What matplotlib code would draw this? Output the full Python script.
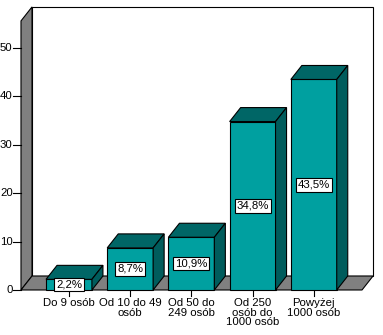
import matplotlib
matplotlib.use("Agg")
import matplotlib.pyplot as plt
from matplotlib.patches import Polygon

plt.rcParams["font.family"] = ["Liberation Sans", "DejaVu Sans"]

categories = ["Do 9 osób", "Od 10 do 49\nosób", "Od 50 do\n249 osób",
              "Od 250\nosób do\n1000 osób", "Powyżej\n1000 osób"]
values = [2.2, 8.7, 10.9, 34.8, 43.5]
yticks = [0, 10, 20, 30, 40, 50]

FRONT = "#00a0a0"
TOP = "#006666"
SIDE = "#005c5c"
WALL = "#808080"
LW = 0.8
FS = 8.2

# depth offset of the 3-D effect, in data units
DX, DY = 0.18, 2.89
BAR_W = 0.75
X0, X1 = -0.784, 4.788      # front edge of floor
YTOP = 55.6                  # front top of left wall

fig = plt.figure(figsize=(3.83, 3.35), dpi=100)
ax = fig.add_axes([0, 0, 1, 1])
ax.set_xlim(-1.127, 5.131)
ax.set_ylim(-9.30, 59.92)
ax.axis("off")

def poly(pts, fc, z=1):
    ax.add_patch(Polygon(pts, closed=True, facecolor=fc, edgecolor="black",
                         linewidth=LW, zorder=z))

# back wall, left wall, floor
poly([(X0 + DX, DY), (X1 + DX, DY), (X1 + DX, YTOP + DY), (X0 + DX, YTOP + DY)], "white", 1)
poly([(X0, 0), (X0 + DX, DY), (X0 + DX, YTOP + DY), (X0, YTOP)], WALL, 2)
poly([(X0, 0), (X1, 0), (X1 + DX, DY), (X0 + DX, DY)], WALL, 2)

# y axis ticks
for v in yticks:
    ax.plot([X0 - 0.13, X0], [v, v], color="black", linewidth=LW, zorder=3)
    ax.text(X0 - 0.135, v, str(v), ha="right", va="center", fontsize=FS, zorder=3)

# bars
for i, (cat, v) in enumerate(zip(categories, values)):
    l, r = i - BAR_W / 2, i + BAR_W / 2
    poly([(l, 0), (r, 0), (r, v), (l, v)], FRONT, 4)
    poly([(l, v), (r, v), (r + DX, v + DY), (l + DX, v + DY)], TOP, 4)
    poly([(r, 0), (r + DX, DY), (r + DX, v + DY), (r, v)], SIDE, 4)
    ax.text(i, v / 2, f"{v:.1f}%".replace(".", ","), ha="center", va="center",
            fontsize=FS, zorder=6,
            bbox=dict(boxstyle="square,pad=0.16", facecolor="white",
                      edgecolor="black", linewidth=LW))
    ax.plot([i, i], [0, -1.3], color="black", linewidth=LW, zorder=3)
    ax.text(i, -1.7, cat, ha="center", va="top", fontsize=FS,
            linespacing=0.95, zorder=3)

fig.savefig("out.png", dpi=100)
